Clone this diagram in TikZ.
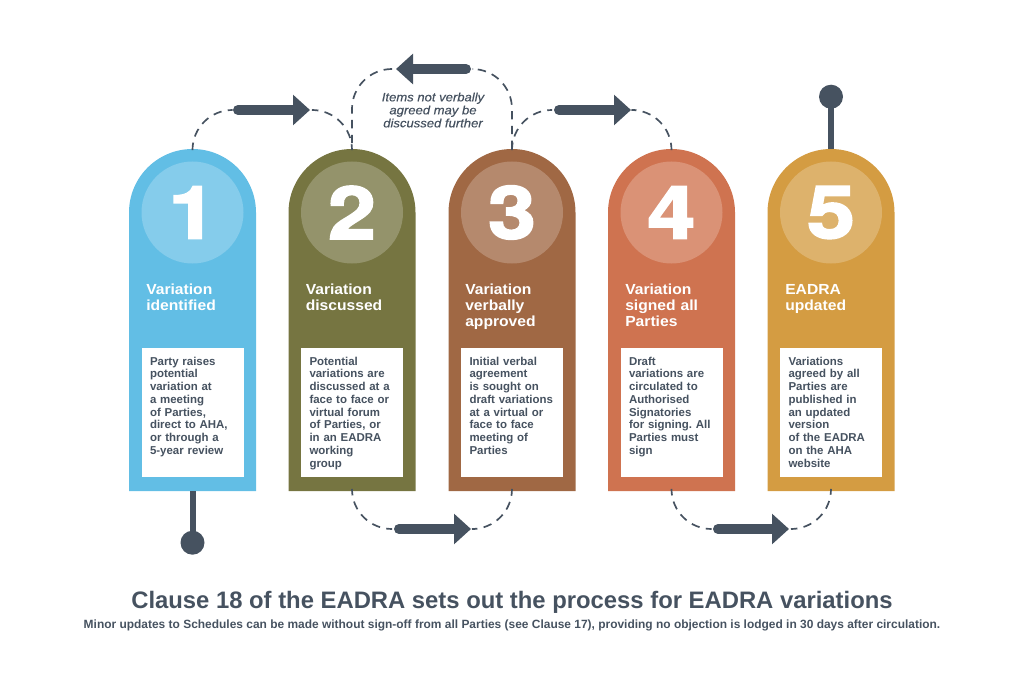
\documentclass[tikz,border=0pt]{standalone}
\usepackage{fontspec}
\usetikzlibrary{arrows.meta}
\setmainfont{Liberation Sans}
\newfontfamily\widefont[FakeStretch=1.07]{Liberation Sans}
\newfontfamily\notefont[FakeStretch=1.08,ItalicFeatures={FakeBold=0.4}]{Liberation Sans}
\newfontfamily\numfont[FakeStretch=1.18,BoldFeatures={FakeBold=2.5}]{TeX Gyre Heros}
\frenchspacing

\definecolor{inkgrey}{HTML}{465260}
\definecolor{cardblue}{HTML}{62BEE5}
\definecolor{cardolive}{HTML}{767541}
\definecolor{cardbrown}{HTML}{A06844}
\definecolor{cardorange}{HTML}{CF7350}
\definecolor{cardgold}{HTML}{D49C42}

\tikzset{
    cardhead/.style={circle, minimum size=3.175cm, inner sep=0, outer sep=0},
    cardbody/.style={rectangle, minimum width=3.175cm, minimum height=6.9625cm, anchor=north, inner sep=0, outer sep=0},
    numdisc/.style={circle, fill=#1!78!white, minimum size=2.55cm, inner sep=0},
    numtext/.style={text=white, inner sep=0, font=\numfont\bfseries\fontsize{52}{52}\selectfont},
    cardtitle/.style={anchor=base west, text=white, text width=2.9cm, align=left, inner sep=0, font=\widefont\bfseries\fontsize{10.4}{11.4}\selectfont},
    infobox/.style={rectangle, fill=white, text=inkgrey, text width=2.125cm, inner xsep=0.2125cm, inner ysep=0, align=left, text height=0.4175cm, text depth=2.7925cm, font=\bfseries\fontsize{8.15}{9.1}\selectfont\frenchspacing},
    dashlink/.style={draw=inkgrey, line width=1.2pt, dash pattern=on 6pt off 4.5pt, rounded corners=1cm},
    bigarrow/.style={draw=inkgrey, line width=0.25cm, line cap=round, -{Triangle[length=0.425cm, width=0.74cm]}},
    pinball/.style={circle, fill=inkgrey, minimum size=0.6cm, inner sep=0},
    pinline/.style={draw=inkgrey, line width=0.15cm}
}

\begin{document}
\begin{tikzpicture}
    \useasboundingbox (0,0) rectangle (25.6,17.075);

    % cards
    \node[cardhead] (head1) at (4.8125, 11.7625) {};
    \node[cardhead] (head2) at (8.8, 11.7625) {};
    \node[cardhead] (head3) at (12.8, 11.7625) {};
    \node[cardhead] (head4) at (16.7875, 11.7625) {};
    \node[cardhead] (head5) at (20.775, 11.7625) {};
    \node[cardbody] (body1) at (head1.center) {};
    \node[cardbody] (body2) at (head2.center) {};
    \node[cardbody] (body3) at (head3.center) {};
    \node[cardbody] (body4) at (head4.center) {};
    \node[cardbody] (body5) at (head5.center) {};
    \fill[cardblue] (body1.south west) -- (body1.north west) arc[start angle=180, end angle=0, radius=1.5875] -- (body1.south east) -- cycle;
    \fill[cardolive] (body2.south west) -- (body2.north west) arc[start angle=180, end angle=0, radius=1.5875] -- (body2.south east) -- cycle;
    \fill[cardbrown] (body3.south west) -- (body3.north west) arc[start angle=180, end angle=0, radius=1.5875] -- (body3.south east) -- cycle;
    \fill[cardorange] (body4.south west) -- (body4.north west) arc[start angle=180, end angle=0, radius=1.5875] -- (body4.south east) -- cycle;
    \fill[cardgold] (body5.south west) -- (body5.north west) arc[start angle=180, end angle=0, radius=1.5875] -- (body5.south east) -- cycle;

    % numbers
    \node[numdisc=cardblue] (disc1) at (head1) {};
    \node[numdisc=cardolive] (disc2) at (head2) {};
    \node[numdisc=cardbrown] (disc3) at (head3) {};
    \node[numdisc=cardorange] (disc4) at (head4) {};
    \node[numdisc=cardgold] (disc5) at (head5) {};
    \node[numtext] (num1) at (disc1) {1};
    \node[numtext] (num2) at (disc2) {2};
    \node[numtext] (num3) at (disc3) {3};
    \node[numtext] (num4) at (disc4) {4};
    \node[numtext] (num5) at (disc5) {5};

    % titles
    \node[cardtitle] (title1) at (3.65, 9.725) {Variation\\identified};
    \node[cardtitle] (title2) at (7.6375, 9.725) {Variation\\discussed};
    \node[cardtitle] (title3) at (11.625, 9.725) {Variation\\verbally\\approved};
    \node[cardtitle] (title4) at (15.625, 9.725) {Variation\\signed all\\Parties};
    \node[cardtitle] (title5) at (19.625, 9.725) {EADRA\\updated};

    % white boxes
    \node[infobox] (box1) at (4.8125, 6.7625) {Party raises\\potential\\variation at\\a meeting\\of Parties,\\direct to AHA,\\or through a\\5-year review};
    \node[infobox] (box2) at (8.8, 6.7625) {Potential\\variations are\\discussed at a\\face to face or\\virtual forum\\of Parties, or\\in an EADRA\\working\\group};
    \node[infobox] (box3) at (12.8, 6.7625) {Initial verbal\\agreement\\is sought on\\draft variations\\at a virtual or\\face to face\\meeting of\\Parties};
    \node[infobox] (box4) at (16.7875, 6.7625) {Draft\\variations are\\circulated to\\Authorised\\Signatories\\for signing. All\\Parties must\\sign};
    \node[infobox] (box5) at (20.775, 6.7625) {Variations\\agreed by all\\Parties are\\published in\\an updated\\version\\of the EADRA\\on the AHA\\website};

    % arrow ends
    \coordinate (arrow1s) at (5.95, 14.325);
    \coordinate (arrow1e) at (7.75, 14.325);
    \coordinate (arrow2s) at (11.65, 15.35);
    \coordinate (arrow2e) at (9.9, 15.35);
    \coordinate (arrow3s) at (13.975, 14.325);
    \coordinate (arrow3e) at (15.775, 14.325);
    \coordinate (arrow4s) at (9.975, 3.85);
    \coordinate (arrow4e) at (11.775, 3.85);
    \coordinate (arrow5s) at (17.95, 3.85);
    \coordinate (arrow5e) at (19.725, 3.85);

    % dashed links
    \draw[dashlink, shorten >=0.175cm] (head1.north) |- (arrow1s);
    \draw[dashlink, shorten <=0.1cm] (arrow1e) -| (head2.north);
    \draw[dashlink, shorten >=0.175cm] (head3.north) |- (arrow2s);
    \draw[dashlink, shorten <=0.1cm] (arrow2e) -| (head2.north);
    \draw[dashlink, shorten >=0.175cm] (head3.north) |- (arrow3s);
    \draw[dashlink, shorten <=0.1cm] (arrow3e) -| (head4.north);
    \draw[dashlink, shorten >=0.175cm] (body2.south) |- (arrow4s);
    \draw[dashlink, shorten <=0.1cm] (arrow4e) -| (body3.south);
    \draw[dashlink, shorten >=0.175cm] (body4.south) |- (arrow5s);
    \draw[dashlink, shorten <=0.1cm] (arrow5e) -| (body5.south);

    % thick arrows
    \draw[bigarrow] (arrow1s) -- (arrow1e);
    \draw[bigarrow] (arrow2s) -- (arrow2e);
    \draw[bigarrow] (arrow3s) -- (arrow3e);
    \draw[bigarrow] (arrow4s) -- (arrow4e);
    \draw[bigarrow] (arrow5s) -- (arrow5e);

    % pins at start and end
    \node[pinball] (ball1) at (4.8125, 3.5075) {};
    \node[pinball] (ball5) at (20.775, 14.6575) {};
    \draw[pinline] (body1.south) -- (ball1.center);
    \draw[pinline] (head5.north) -- (ball5.center);

    % texts
    \node[text=inkgrey, align=center, inner sep=0, font=\notefont\itshape\fontsize{8.6}{9.25}\selectfont] (note) at (10.825, 14.325) {Items not verbally\\agreed may be\\discussed further};
    \node[text=inkgrey, anchor=base, inner sep=0, font=\bfseries\fontsize{16.95}{20}\selectfont] (maintitle) at (12.8, 1.875) {Clause 18 of the EADRA sets out the process for EADRA variations};
    \node[text=inkgrey, anchor=base, inner sep=0, font=\bfseries\fontsize{8.5}{10}\selectfont] (subtitle) at (12.8, 1.375) {Minor updates to Schedules can be made without sign-off from all Parties (see Clause 17), providing no objection is lodged in 30 days after circulation.};
\end{tikzpicture}
\end{document}
